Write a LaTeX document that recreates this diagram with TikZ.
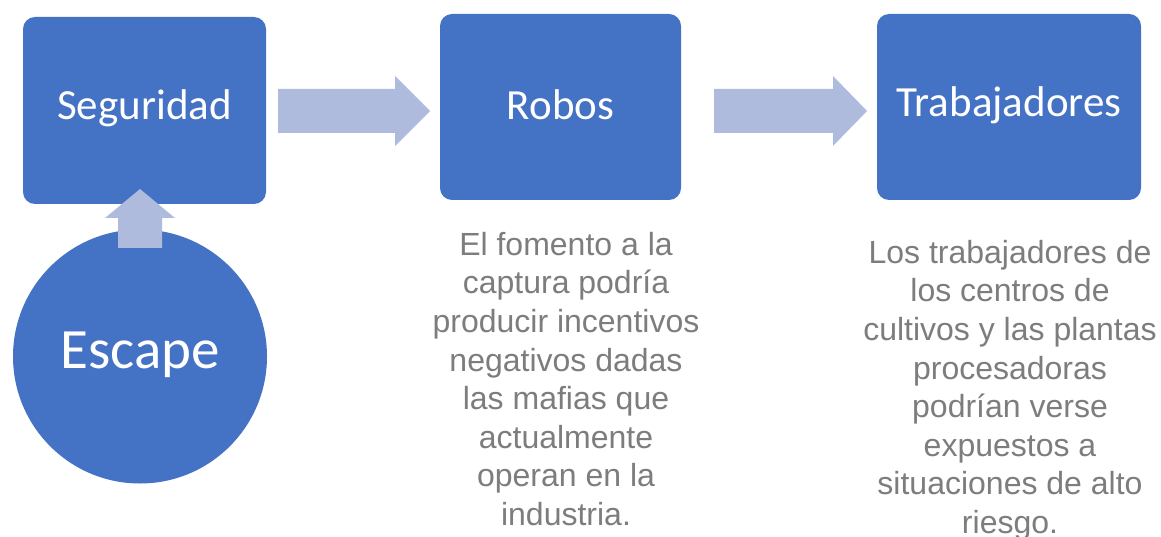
\documentclass[tikz,border=0pt]{standalone}
\usepackage{fontspec}
\setmainfont{Carlito}
\newfontfamily\arialf{Liberation Sans}
\definecolor{boxblue}{RGB}{68,114,196}
\definecolor{arrowblue}{RGB}{174,187,220}
\definecolor{txtgray}{RGB}{125,125,125}
\tikzset{
  bluebox/.style={fill=boxblue, draw=none, rounded corners=12pt, inner sep=0pt},
  boxlabel/.style={text=white, font=\fontsize{43}{50}\selectfont},
  note/.style={text=txtgray, align=center, inner sep=0pt,
    font=\arialf\fontsize{32}{38.6}\selectfont},
  blockarrow/.style={fill=arrowblue, draw=none}
}
\begin{document}
\begin{tikzpicture}[x=1pt,y=-1pt]
\useasboundingbox (0,0) rectangle (1161,537);
\fill[white] (0,0) rectangle (1161,537);
% boxes
\fill[bluebox] (23,17) rectangle (266,204);
\node[boxlabel] (seg) at (144.5,108) {Seguridad};
\fill[bluebox] (440,14) rectangle (681,200);
\node[boxlabel] (rob) at (560.5,105) {Robos};
\fill[bluebox] (877,14) rectangle (1141,200);
\node[boxlabel] (tra) at (1009,105) {Trabajadores};
% circle
\fill[boxblue] (140,356.5) circle (127);
\node[text=white, font=\fontsize{57}{64}\selectfont] (esc) at (140,355) {Escape};
% block arrows
\fill[blockarrow] (278,89) -- (395,89) -- (395,76) -- (430,111) -- (395,146) -- (395,133) -- (278,133) -- cycle;
\fill[blockarrow] (714,89) -- (833,89) -- (833,76) -- (867,111) -- (833,146) -- (833,133) -- (714,133) -- cycle;
\fill[blockarrow] (118,248) -- (118,218) -- (105,218) -- (140,189) -- (175,218) -- (162,218) -- (162,248) -- cycle;
% notes
\node[note, anchor=north] (n1) at (566,232) {El fomento a la\\captura podría\\producir incentivos\\negativos dadas\\las mafias que\\actualmente\\operan en la\\industria.};
\node[note, anchor=north] (n2) at (1010,240) {Los trabajadores de\\los centros de\\cultivos y las plantas\\procesadoras\\podrían verse\\expuestos a\\situaciones de alto\\riesgo.};
\end{tikzpicture}
\end{document}
